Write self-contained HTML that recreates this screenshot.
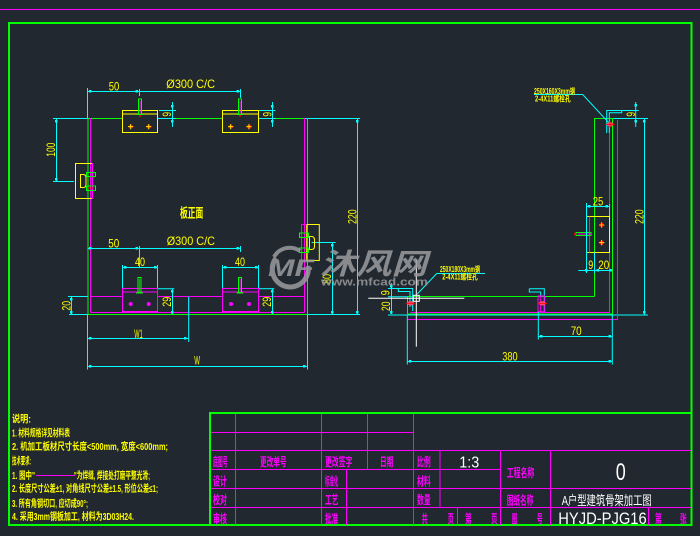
<!DOCTYPE html>
<html><head><meta charset="utf-8"><style>
html,body{margin:0;padding:0;background:#212830;}
svg{display:block;}
text{font-family:"Liberation Sans","Noto Sans CJK SC",sans-serif;}
</style></head><body>
<svg width="700" height="536" viewBox="0 0 700 536" xmlns="http://www.w3.org/2000/svg">
<rect width="700" height="536" fill="#212830"/>
<line x1="0" y1="9.5" x2="700" y2="9.5" stroke="#ff00ff" stroke-width="1"/>
<rect x="9" y="23" width="682.5" height="502" fill="none" stroke="#00ff00" stroke-width="2"/>

<g fill="none" stroke-width="1">
<line x1="53" y1="118.5" x2="88" y2="118.5" stroke="#00ffff"/>
<line x1="157" y1="118.5" x2="176" y2="118.5" stroke="#00ffff"/>
<line x1="258" y1="118.5" x2="276" y2="118.5" stroke="#00ffff"/>
<line x1="304" y1="118.5" x2="360" y2="118.5" stroke="#00ffff"/>
<line x1="88" y1="118.5" x2="122" y2="118.5" stroke="#00ff00"/>
<line x1="176" y1="118.5" x2="222" y2="118.5" stroke="#00ff00"/>
<line x1="276" y1="118.5" x2="304" y2="118.5" stroke="#00ff00"/>
<line x1="88" y1="118" x2="88" y2="314" stroke="#00ff00"/>
<line x1="90.5" y1="118" x2="90.5" y2="312.5" stroke="#ff00ff"/>
<line x1="304.5" y1="118" x2="304.5" y2="312.5" stroke="#ff00ff"/>
<line x1="307.5" y1="118" x2="307.5" y2="314" stroke="#00ff00"/>
<line x1="69" y1="314.5" x2="360" y2="314.5" stroke="#00ffff"/>
<line x1="88" y1="314.5" x2="307.5" y2="314.5" stroke="#00ff00"/>
<line x1="90.5" y1="312.5" x2="304.5" y2="312.5" stroke="#ff00ff"/>
<line x1="90.5" y1="296.5" x2="122.5" y2="296.5" stroke="#ff00ff"/>
<line x1="157.5" y1="296.5" x2="222.5" y2="296.5" stroke="#ff00ff"/>
<line x1="258.5" y1="296.5" x2="304.5" y2="296.5" stroke="#ff00ff"/>
<line x1="188.7" y1="296.5" x2="188.7" y2="312.5" stroke="#ff00ff"/>

<line x1="87.5" y1="88" x2="87.5" y2="118" stroke="#00ffff"/>
<line x1="87.5" y1="91.5" x2="240.5" y2="91.5" stroke="#00ffff"/>
<line x1="139.5" y1="89" x2="139.5" y2="96" stroke="#00ffff"/>
<line x1="240.5" y1="89" x2="240.5" y2="98" stroke="#00ffff"/>
<line x1="172.5" y1="102" x2="172.5" y2="127" stroke="#00ffff"/>
<line x1="159" y1="110.5" x2="176" y2="110.5" stroke="#00ffff"/>
<line x1="272.5" y1="102" x2="272.5" y2="127" stroke="#00ffff"/>
<line x1="258.7" y1="110.5" x2="275.5" y2="110.5" stroke="#00ffff"/>
<line x1="56.5" y1="118" x2="56.5" y2="181.5" stroke="#00ffff"/>
<line x1="53" y1="181.5" x2="74" y2="181.5" stroke="#00ffff"/>
<line x1="357.5" y1="118" x2="357.5" y2="314" stroke="#00ffff"/>
<line x1="332.5" y1="242" x2="332.5" y2="314" stroke="#00ffff"/>
<line x1="311.7" y1="242.5" x2="335.7" y2="242.5" stroke="#00ffff"/>
<line x1="87.5" y1="248.5" x2="240.5" y2="248.5" stroke="#00ffff"/>
<line x1="139.5" y1="246" x2="139.5" y2="267" stroke="#00ffff"/>
<line x1="240.5" y1="246" x2="240.5" y2="252" stroke="#00ffff"/>
<line x1="122.5" y1="267.5" x2="157.5" y2="267.5" stroke="#00ffff"/>
<line x1="122.5" y1="265" x2="122.5" y2="289" stroke="#00ffff"/>
<line x1="157.5" y1="265" x2="157.5" y2="289" stroke="#00ffff"/>
<line x1="222.5" y1="267.5" x2="258.5" y2="267.5" stroke="#00ffff"/>
<line x1="222.5" y1="265" x2="222.5" y2="289" stroke="#00ffff"/>
<line x1="258.5" y1="265" x2="258.5" y2="289" stroke="#00ffff"/>
<line x1="172.5" y1="288.7" x2="172.5" y2="314" stroke="#00ffff"/>
<line x1="157.7" y1="288.7" x2="174.3" y2="288.7" stroke="#00ffff"/>
<line x1="272.5" y1="288.7" x2="272.5" y2="314" stroke="#00ffff"/>
<line x1="258.7" y1="288.7" x2="274.3" y2="288.7" stroke="#00ffff"/>
<line x1="71.5" y1="296.5" x2="71.5" y2="314" stroke="#00ffff"/>
<line x1="68" y1="296.5" x2="88" y2="296.5" stroke="#00ffff"/>
<line x1="87.5" y1="314" x2="87.5" y2="369.5" stroke="#00ffff"/>
<line x1="188.7" y1="296.5" x2="188.7" y2="342" stroke="#00ffff"/>
<line x1="87.5" y1="338.5" x2="188.7" y2="338.5" stroke="#00ffff"/>
<line x1="307.5" y1="314" x2="307.5" y2="369.5" stroke="#00ffff"/>
<line x1="87.5" y1="366.5" x2="307.5" y2="366.5" stroke="#00ffff"/>
</g>
<g fill="#00ffff">
<rect x="89" y="90" width="2.5" height="2.5"/><rect x="135.5" y="90" width="2.5" height="2.5"/><rect x="236.5" y="90" width="2.5" height="2.5"/>
<rect x="89" y="247" width="2.5" height="2.5"/><rect x="135.5" y="247" width="2.5" height="2.5"/><rect x="236.5" y="247" width="2.5" height="2.5"/>
<rect x="171" y="105" width="2.5" height="2.5"/><rect x="171" y="120" width="2.5" height="2.5"/>
<rect x="271" y="105" width="2.5" height="2.5"/><rect x="271" y="120" width="2.5" height="2.5"/>
<rect x="55" y="120" width="2.5" height="2.5"/><rect x="55" y="178" width="2.5" height="2.5"/>
<rect x="356" y="120" width="2.5" height="2.5"/><rect x="356" y="311" width="2.5" height="2.5"/>
<rect x="331" y="244" width="2.5" height="2.5"/><rect x="331" y="311" width="2.5" height="2.5"/>
<rect x="124" y="266" width="2.5" height="2.5"/><rect x="154" y="266" width="2.5" height="2.5"/>
<rect x="224" y="266" width="2.5" height="2.5"/><rect x="255" y="266" width="2.5" height="2.5"/>
<rect x="171" y="290" width="2.5" height="2.5"/><rect x="171" y="311" width="2.5" height="2.5"/>
<rect x="271" y="290" width="2.5" height="2.5"/><rect x="271" y="311" width="2.5" height="2.5"/>
<rect x="70" y="298" width="2.5" height="2.5"/><rect x="70" y="311" width="2.5" height="2.5"/>
<rect x="89" y="337" width="2.5" height="2.5"/><rect x="184" y="337" width="2.5" height="2.5"/>
<rect x="89" y="365" width="2.5" height="2.5"/><rect x="303" y="365" width="2.5" height="2.5"/>
</g>

<g fill="none" stroke-width="1">
<rect x="122.5" y="110.5" width="35" height="22" stroke="#ffff00"/>
<line x1="122.5" y1="114" x2="157.5" y2="114" stroke="#ffff00"/>
<rect x="222.5" y="110.5" width="36" height="22" stroke="#ffff00"/>
<line x1="222.5" y1="114" x2="258.5" y2="114" stroke="#ffff00"/>
<rect x="138.5" y="99" width="3" height="15" stroke="#00ff00"/>
<line x1="140" y1="101" x2="140" y2="114" stroke="#ff00ff"/>
<line x1="136.5" y1="114.5" x2="143.5" y2="114.5" stroke="#00ff00"/>
<rect x="238.5" y="99" width="3" height="15" stroke="#00ff00"/>
<line x1="240" y1="101" x2="240" y2="114" stroke="#ff00ff"/>
<line x1="236.5" y1="114.5" x2="243.5" y2="114.5" stroke="#00ff00"/>
<rect x="75.5" y="163.5" width="17" height="35" stroke="#ffff00"/>
<line x1="92.5" y1="163" x2="92.5" y2="199" stroke="#ff00ff"/>
<path d="M80.5,174.5 H83.5 Q86,174.5 86,178 V184 Q86,187.5 83.5,187.5 H80.5 Z" stroke="#ffff00"/>
<rect x="86.5" y="172.5" width="9" height="4" stroke="#00ff00"/>
<rect x="86.5" y="186" width="9" height="4.5" stroke="#00ff00"/>
<line x1="88" y1="188" x2="94" y2="188" stroke="#ff0000"/>
<rect x="306.7" y="224.5" width="12.6" height="36" stroke="#ffff00"/>
<path d="M301.5,224.5 H306.7 M301.5,224.5 V260.5" stroke="#ff00ff"/>
<rect x="299.5" y="233" width="9" height="4.5" stroke="#00ff00"/>
<rect x="299.5" y="248" width="9" height="4.5" stroke="#00ff00"/>
<path d="M309.5,236.5 H311.5 Q314.5,236.5 314.5,240 V246 Q314.5,249.5 311.5,249.5 H309.5 Z" stroke="#ffff00"/>
<rect x="122.5" y="288.5" width="35" height="23" stroke="#ff00ff"/>
<line x1="122.5" y1="292" x2="157.5" y2="292" stroke="#ff00ff"/>
<rect x="222.5" y="288.5" width="36" height="23" stroke="#ff00ff"/>
<line x1="222.5" y1="292" x2="258.5" y2="292" stroke="#ff00ff"/>
<rect x="138" y="277.5" width="3" height="15" stroke="#00ff00"/>
<line x1="139.5" y1="279" x2="139.5" y2="292" stroke="#ff00ff"/>
<line x1="136" y1="293" x2="143" y2="293" stroke="#00ff00"/>
<rect x="238.5" y="277.5" width="3" height="15" stroke="#00ff00"/>
<line x1="240" y1="279" x2="240" y2="292" stroke="#ff00ff"/>
<line x1="236.5" y1="293" x2="243.5" y2="293" stroke="#00ff00"/>
</g>
<g>
<circle cx="130.7" cy="126.7" r="2.2" fill="#ff0000"/><path d="M128,126.7h5.4M130.7,124v5.4" stroke="#ffff00" stroke-width="0.8"/>
<circle cx="148.7" cy="126.7" r="2.2" fill="#ff0000"/><path d="M146,126.7h5.4M148.7,124v5.4" stroke="#ffff00" stroke-width="0.8"/>
<circle cx="230.7" cy="126.7" r="2.2" fill="#ff0000"/><path d="M228,126.7h5.4M230.7,124v5.4" stroke="#ffff00" stroke-width="0.8"/>
<circle cx="249" cy="126.7" r="2.2" fill="#ff0000"/><path d="M246.3,126.7h5.4M249,124v5.4" stroke="#ffff00" stroke-width="0.8"/>
<circle cx="130.7" cy="304" r="2" fill="#ff00ff"/><circle cx="148.7" cy="304" r="2" fill="#ff00ff"/>
<circle cx="231" cy="304" r="2" fill="#ff00ff"/><circle cx="249" cy="304" r="2" fill="#ff00ff"/>
<circle cx="140" cy="116" r="1" fill="#ff0000"/><circle cx="240" cy="116" r="1" fill="#ff0000"/>
</g>

<g fill="#ffff00" font-size="12">
<text x="108.7" y="90.5" textLength="10.6" lengthAdjust="spacingAndGlyphs">50</text>
<text x="166.3" y="88" textLength="48.7" lengthAdjust="spacingAndGlyphs">Ø300  C/C</text>
<text x="108.3" y="247.3" textLength="11" lengthAdjust="spacingAndGlyphs">50</text>
<text x="166.7" y="245" textLength="48.3" lengthAdjust="spacingAndGlyphs">Ø300  C/C</text>
<text x="135" y="266" textLength="10" lengthAdjust="spacingAndGlyphs">40</text>
<text x="235" y="266" textLength="10" lengthAdjust="spacingAndGlyphs">40</text>
<text x="134.3" y="338" textLength="8.4" lengthAdjust="spacingAndGlyphs">W1</text>
<text x="194.3" y="364.5" textLength="5.7" lengthAdjust="spacingAndGlyphs">W</text>
<text x="180" y="217.5" font-size="13" font-weight="bold" textLength="23.3" lengthAdjust="spacingAndGlyphs">板正面</text>
<text transform="translate(55,149.7) rotate(-90)" text-anchor="middle" textLength="14" lengthAdjust="spacingAndGlyphs">100</text>
<text transform="translate(171,114.3) rotate(-90)" text-anchor="middle" textLength="4.7" lengthAdjust="spacingAndGlyphs">9</text>
<text transform="translate(271.7,114.3) rotate(-90)" text-anchor="middle" textLength="4.7" lengthAdjust="spacingAndGlyphs">9</text>
<text transform="translate(171,301.7) rotate(-90)" text-anchor="middle" textLength="10" lengthAdjust="spacingAndGlyphs">29</text>
<text transform="translate(271,301.7) rotate(-90)" text-anchor="middle" textLength="10" lengthAdjust="spacingAndGlyphs">29</text>
<text transform="translate(70.3,305.8) rotate(-90)" text-anchor="middle" textLength="9.7" lengthAdjust="spacingAndGlyphs">20</text>
<text transform="translate(356.5,216.7) rotate(-90)" text-anchor="middle" textLength="14.7" lengthAdjust="spacingAndGlyphs">220</text>
<text transform="translate(331,279) rotate(-90)" text-anchor="middle" textLength="10" lengthAdjust="spacingAndGlyphs">80</text>
</g>

<g fill="none" stroke-width="1">
<line x1="612" y1="118.5" x2="648" y2="118.5" stroke="#00ffff"/>
<line x1="388" y1="315" x2="648" y2="315" stroke="#00ffff"/>
<line x1="644.5" y1="118" x2="644.5" y2="315" stroke="#00ffff"/>
<path d="M594.5,296.5 V118.5 H612.5 V314 H407.5" stroke="#00ff00"/>
<line x1="407.5" y1="296.5" x2="594.5" y2="296.5" stroke="#00ff00"/>
<line x1="407.5" y1="296" x2="407.5" y2="314" stroke="#00ff00"/>
<path d="M609.5,120 V312.5 H410.5" stroke="#ff00ff"/>
<path d="M617.5,120 V319.5 H407.5" stroke="#ff00ff"/>
<line x1="635.7" y1="102" x2="635.7" y2="127" stroke="#00ffff"/>
<path d="M606.7,133 V110.5 H638.7" stroke="#00ffff"/>
<path d="M609.3,133 V112.8 H621.7 V110.5" stroke="#00ffff"/>
<path d="M534,94.5 H582.7 L609.3,123.3" stroke="#00ffff"/>
<rect x="586.5" y="216.5" width="23" height="36" stroke="#ffff00"/>
<line x1="589.5" y1="216.5" x2="589.5" y2="252.5" stroke="#ff00ff"/>
<rect x="576" y="232.5" width="15" height="3" stroke="#00ff00"/>
<line x1="578" y1="234" x2="591" y2="234" stroke="#ff00ff"/>
<line x1="586.5" y1="206.5" x2="609.7" y2="206.5" stroke="#00ffff"/>
<line x1="586.5" y1="203" x2="586.5" y2="273" stroke="#00ffff"/>
<line x1="609.5" y1="204" x2="609.5" y2="216" stroke="#00ffff"/>
<line x1="594.5" y1="252.5" x2="594.5" y2="273" stroke="#00ffff"/>
<line x1="578.3" y1="270.5" x2="612.3" y2="270.5" stroke="#00ffff"/>
<path d="M388,288.5 H412.7 V311" stroke="#00ffff"/>
<path d="M398.3,288.5 V291.5 H410 V307" stroke="#00ffff"/>
<line x1="391.5" y1="283.3" x2="391.5" y2="314" stroke="#00ffff"/>
<line x1="388" y1="296.7" x2="407" y2="296.7" stroke="#00ffff"/>
<path d="M485,273.5 H436.7 L417.3,294" stroke="#00ffff"/>
<path d="M529.3,288.7 H544.3 V312" stroke="#00ffff"/>
<path d="M529.3,288.7 V292 H540.7 V296" stroke="#00ffff"/>
<rect x="538" y="296" width="6.7" height="15.7" stroke="#ff00ff"/>
<line x1="540.7" y1="296" x2="540.7" y2="311.7" stroke="#ff00ff"/>
<line x1="538.3" y1="312" x2="538.3" y2="339.5" stroke="#00ffff"/>
<line x1="538.3" y1="336.5" x2="612.3" y2="336.5" stroke="#00ffff"/>
<line x1="612.3" y1="315" x2="612.3" y2="364.5" stroke="#00ffff"/>
<line x1="407.3" y1="315" x2="407.3" y2="364.5" stroke="#00ffff"/>
<line x1="407.3" y1="361.5" x2="612.3" y2="361.5" stroke="#00ffff"/>
<line x1="416.3" y1="260" x2="416.3" y2="346.7" stroke="#ffffff"/>
<line x1="368.3" y1="298.3" x2="464.3" y2="298.3" stroke="#ffffff"/>
<rect x="413.3" y="295.3" width="6" height="6" stroke="#ffffff"/>
</g>
<g fill="#00ffff">
<rect x="643" y="120" width="2.5" height="2.5"/><rect x="643" y="311" width="2.5" height="2.5"/>
<rect x="634.5" y="104" width="2.5" height="2.5"/><rect x="634.5" y="120" width="2.5" height="2.5"/>
<rect x="588" y="205" width="2.5" height="2.5"/><rect x="605.5" y="205" width="2.5" height="2.5"/>
<rect x="585" y="269" width="2.5" height="2.5"/><rect x="596.5" y="269" width="2.5" height="2.5"/><rect x="609.5" y="269" width="2.5" height="2.5"/>
<rect x="540" y="335" width="2.5" height="2.5"/><rect x="608.5" y="335" width="2.5" height="2.5"/>
<rect x="409" y="360" width="2.5" height="2.5"/><rect x="608.5" y="360" width="2.5" height="2.5"/>
<rect x="390" y="285" width="2.5" height="2.5"/><rect x="390" y="311" width="2.5" height="2.5"/>
</g>
<g>
<ellipse cx="610" cy="124.3" rx="3.5" ry="2.2" fill="#ff4c6a"/><path d="M605,124.3h10M610,121v6.6" stroke="#ff0000" stroke-width="0.8"/>
<ellipse cx="410.7" cy="303.3" rx="3.5" ry="2.2" fill="#ff4c6a"/><path d="M405.5,303.3h10.4" stroke="#ff0000" stroke-width="0.8"/>
<ellipse cx="542.3" cy="303.3" rx="3.5" ry="2.2" fill="#ff4c6a"/><path d="M537,303.3h10.6" stroke="#ff0000" stroke-width="0.8"/>
<circle cx="601.7" cy="225" r="2.2" fill="#ff0000"/><path d="M599,225h5.4M601.7,222.3v5.4" stroke="#ffff00" stroke-width="0.8"/>
<circle cx="601.7" cy="242.7" r="2.2" fill="#ff0000"/><path d="M599,242.7h5.4M601.7,240v5.4" stroke="#ffff00" stroke-width="0.8"/>
<circle cx="575" cy="234" r="1.2" fill="#ff0000"/>
</g>
<g fill="#ffff00" font-size="12">
<text x="592.7" y="205.5" textLength="10.6" lengthAdjust="spacingAndGlyphs">25</text>
<text x="588.3" y="269" textLength="5" lengthAdjust="spacingAndGlyphs">9</text>
<text x="598.3" y="269" textLength="11" lengthAdjust="spacingAndGlyphs">20</text>
<text x="570.7" y="335" textLength="11" lengthAdjust="spacingAndGlyphs">70</text>
<text x="502.3" y="360.5" textLength="15.4" lengthAdjust="spacingAndGlyphs">380</text>
<text transform="translate(643.5,216.7) rotate(-90)" text-anchor="middle" textLength="14.7" lengthAdjust="spacingAndGlyphs">220</text>
<text transform="translate(635,114.3) rotate(-90)" text-anchor="middle" textLength="4.7" lengthAdjust="spacingAndGlyphs">9</text>
<text transform="translate(389.3,292.8) rotate(-90)" text-anchor="middle" textLength="5" lengthAdjust="spacingAndGlyphs">9</text>
<text transform="translate(390,306.3) rotate(-90)" text-anchor="middle" textLength="9.3" lengthAdjust="spacingAndGlyphs">20</text>
</g>
<g fill="#ffff00" font-size="8" font-weight="bold">
<text x="534" y="94" textLength="41" lengthAdjust="spacingAndGlyphs">250X160X3mm钢</text>
<text x="535" y="101.7" textLength="35.7" lengthAdjust="spacingAndGlyphs">2-4X11螺栓孔</text>
<text x="440" y="272" textLength="40" lengthAdjust="spacingAndGlyphs">250X180X3mm钢</text>
<text x="442.3" y="279.7" textLength="35.4" lengthAdjust="spacingAndGlyphs">2-4X11螺栓孔</text>
</g>

<g fill="#9a9c9e" opacity="0.85">
<path d="M276,258 A18,18 0 1 0 308,266" fill="none" stroke="#9a9c9e" stroke-width="5"/>
<path d="M274,257 A18,18 0 0 1 300,251" fill="none" stroke="#9a9c9e" stroke-width="4"/>
<text x="268" y="276" font-size="24" font-weight="bold" font-style="italic" textLength="46" lengthAdjust="spacingAndGlyphs">MF</text>
<text x="320" y="274" font-size="29" font-weight="bold" font-style="italic" textLength="107" lengthAdjust="spacingAndGlyphs">沐风网</text>
<text x="321" y="285.3" font-size="11" font-weight="bold" textLength="107" lengthAdjust="spacingAndGlyphs">www.mfcad.com</text>
</g>

<g fill="#ffff00" font-size="10" font-weight="bold">
<text x="12" y="422.5" textLength="19" lengthAdjust="spacingAndGlyphs">说明:</text>
<text x="12" y="436.5" textLength="58" lengthAdjust="spacingAndGlyphs">1. 材料规格详见材料表</text>
<text x="12" y="450" textLength="156" lengthAdjust="spacingAndGlyphs">2. 机加工板材尺寸长度&lt;500mm, 宽度&lt;600mm;</text>
<text x="12" y="464.5" textLength="19" lengthAdjust="spacingAndGlyphs">技术要求:</text>
<text x="12" y="479" textLength="23" lengthAdjust="spacingAndGlyphs">1. 图中"</text>
<text x="74" y="479" textLength="76" lengthAdjust="spacingAndGlyphs">"为焊缝, 焊接处打磨平整光滑;</text>
<text x="12" y="492" textLength="146" lengthAdjust="spacingAndGlyphs">2. 长度尺寸公差±1, 对角线尺寸公差±1.5, 形位公差≤1;</text>
<text x="12" y="507" textLength="76" lengthAdjust="spacingAndGlyphs">3. 所有角钢切口, 应切成90°;</text>
<text x="12" y="520" textLength="122" lengthAdjust="spacingAndGlyphs">4. 采用3mm钢板加工, 材料为3D03H24.</text>
</g>
<line x1="36" y1="475.5" x2="75" y2="475.5" stroke="#ff00ff" stroke-width="1"/>

<g stroke="#ff00ff" stroke-width="1" fill="none">
<line x1="210" y1="432.5" x2="413.5" y2="432.5"/>
<line x1="210" y1="450.5" x2="691" y2="450.5"/>
<line x1="210" y1="469.5" x2="500.5" y2="469.5"/>
<line x1="210" y1="488.5" x2="691" y2="488.5"/>
<line x1="210" y1="507.5" x2="691" y2="507.5"/>
<line x1="235.5" y1="413" x2="235.5" y2="525"/>
<line x1="321.5" y1="413" x2="321.5" y2="525"/>
<line x1="367.5" y1="413" x2="367.5" y2="469.5"/>
<line x1="413.5" y1="413" x2="413.5" y2="525"/>
<line x1="346.5" y1="469.5" x2="346.5" y2="525"/>
<line x1="440" y1="450.5" x2="440" y2="507.5"/>
<line x1="457.5" y1="507.5" x2="457.5" y2="525"/>
<line x1="500.5" y1="450.5" x2="500.5" y2="525"/>
<line x1="550.5" y1="450.5" x2="550.5" y2="525"/>
<line x1="648.5" y1="507.5" x2="648.5" y2="525"/>
</g>
<path d="M210,525 V413 H691" fill="none" stroke="#00ff00" stroke-width="2"/>
<g fill="#ff00ff" font-size="12" font-weight="bold">
<text x="213" y="466" textLength="14.7" lengthAdjust="spacingAndGlyphs">底图号</text>
<text x="260" y="466" textLength="26.7" lengthAdjust="spacingAndGlyphs">更改单号</text>
<text x="325" y="466" textLength="27.3" lengthAdjust="spacingAndGlyphs">更改签字</text>
<text x="380" y="466" textLength="13.3" lengthAdjust="spacingAndGlyphs">日期</text>
<text x="417" y="466" textLength="13.7" lengthAdjust="spacingAndGlyphs">比例</text>
<text x="506.7" y="477" textLength="27.6" lengthAdjust="spacingAndGlyphs">工程名称</text>
<text x="213" y="485.5" textLength="14" lengthAdjust="spacingAndGlyphs">设计</text>
<text x="325" y="485.5" textLength="13.3" lengthAdjust="spacingAndGlyphs">标准化</text>
<text x="417" y="485.5" textLength="13.7" lengthAdjust="spacingAndGlyphs">材料</text>
<text x="213" y="504" textLength="14" lengthAdjust="spacingAndGlyphs">校对</text>
<text x="325" y="504" textLength="13.3" lengthAdjust="spacingAndGlyphs">工艺</text>
<text x="417" y="504" textLength="13.7" lengthAdjust="spacingAndGlyphs">数量</text>
<text x="506.7" y="504.5" textLength="26.6" lengthAdjust="spacingAndGlyphs">图纸名称</text>
<text x="213" y="523" textLength="14" lengthAdjust="spacingAndGlyphs">审核</text>
<text x="325" y="523" textLength="13.3" lengthAdjust="spacingAndGlyphs">批准</text>
<text x="421.7" y="523" textLength="6" lengthAdjust="spacingAndGlyphs">共</text>
<text x="447.7" y="523" textLength="6" lengthAdjust="spacingAndGlyphs">页</text>
<text x="465" y="523" textLength="6.7" lengthAdjust="spacingAndGlyphs">第</text>
<text x="491" y="523" textLength="6.3" lengthAdjust="spacingAndGlyphs">页</text>
<text x="511.7" y="523" textLength="5.6" lengthAdjust="spacingAndGlyphs">图</text>
<text x="536.7" y="523" textLength="6" lengthAdjust="spacingAndGlyphs">号</text>
<text x="655" y="523" textLength="6.7" lengthAdjust="spacingAndGlyphs">第</text>
<text x="680" y="523" textLength="6.7" lengthAdjust="spacingAndGlyphs">张</text>
</g>
<g fill="#ffffff">
<text x="459.3" y="467.3" font-size="16" textLength="20" lengthAdjust="spacingAndGlyphs">1:3</text>
<text x="615.7" y="480" font-size="24" textLength="10" lengthAdjust="spacingAndGlyphs">0</text>
<text x="561.7" y="505" font-size="13" textLength="90" lengthAdjust="spacingAndGlyphs">A户型建筑骨架加工图</text>
<text x="558.3" y="524" font-size="17" textLength="88.4" lengthAdjust="spacingAndGlyphs">HYJD-PJG16</text>
</g>
</svg>
</body></html>
